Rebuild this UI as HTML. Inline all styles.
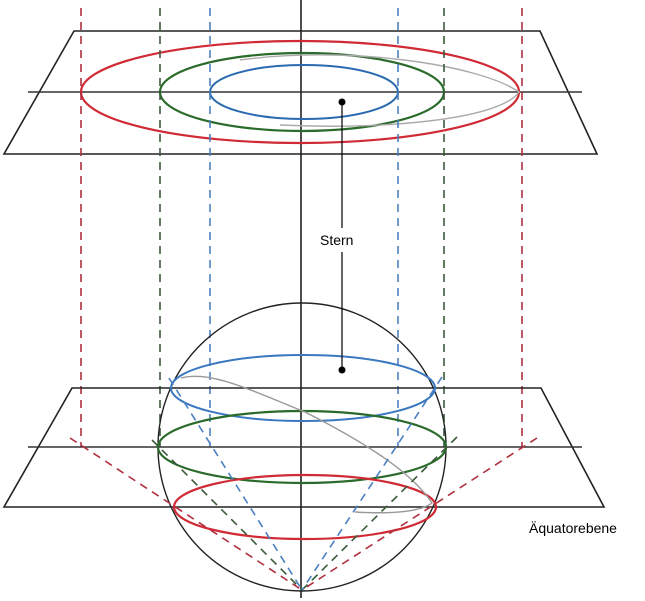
<!DOCTYPE html>
<html><head><style>body{margin:0;background:#fff}svg{display:block}</style></head><body>
<svg width="645" height="601" viewBox="0 0 645 601" xmlns="http://www.w3.org/2000/svg" font-family="Liberation Sans, sans-serif">
<g fill="none" stroke-width="1.6">
<path d="M74,31 L540,31 L597,154 L4,154 Z" stroke="#222"/>
<line x1="28" y1="92" x2="582" y2="92" stroke="#333"/>
<line x1="301" y1="0" x2="301" y2="598" stroke="#222"/>
<ellipse cx="300" cy="92" rx="219" ry="51" stroke="#d02a35" stroke-width="2.2"/>
<ellipse cx="302" cy="92" rx="142" ry="39" stroke="#2a6a2a" stroke-width="2.2"/>
<ellipse cx="304" cy="92" rx="94" ry="27" stroke="#2a6ab0" stroke-width="2"/>
<path d="M240,60 C 350,45 480,65 519,92 C 500,120 380,130 280,125" stroke="#aaa" stroke-width="1.4"/>
<g stroke-dasharray="8,6">
<line x1="81" y1="8" x2="81" y2="447" stroke="#b03040"/>
<line x1="522" y1="8" x2="522" y2="447" stroke="#b03040"/>
<line x1="160" y1="8" x2="160" y2="447" stroke="#3a5a3a"/>
<line x1="444" y1="8" x2="444" y2="447" stroke="#3a5a3a"/>
<line x1="210" y1="8" x2="210" y2="447" stroke="#4a80c0"/>
<line x1="398" y1="8" x2="398" y2="447" stroke="#4a80c0"/>
</g>
<path d="M72,388 L541,388 L604,507 L4,507 Z" stroke="#222"/>
<line x1="28" y1="447" x2="582" y2="447" stroke="#333"/>
<ellipse cx="302" cy="447" rx="144" ry="144" stroke="#222" stroke-width="1.4"/>
<ellipse cx="303" cy="388" rx="132" ry="33" stroke="#3a78c0" stroke-width="2"/>
<ellipse cx="302" cy="447" rx="144" ry="36" stroke="#2a6a2a" stroke-width="2.2"/>
<ellipse cx="305" cy="507" rx="131" ry="32" stroke="#d02a35" stroke-width="2.2"/>
<path d="M181,378 C 210,370 250,390 305,412 C 360,440 410,470 432,503 C 420,512 390,514 355,512" stroke="#999" stroke-width="1.4"/>
<g stroke-dasharray="8,6">
<line x1="70" y1="438" x2="302" y2="590" stroke="#b03040"/>
<line x1="537" y1="438" x2="302" y2="590" stroke="#b03040"/>
<line x1="152" y1="440" x2="302" y2="590" stroke="#3a5a3a"/>
<line x1="457" y1="437" x2="302" y2="590" stroke="#3a5a3a"/>
<line x1="169" y1="378" x2="302" y2="590" stroke="#4a80c0"/>
<line x1="442" y1="377" x2="302" y2="590" stroke="#4a80c0"/>
</g>
<line x1="342" y1="102" x2="342" y2="228" stroke="#000" stroke-width="1.2"/>
<line x1="342" y1="252" x2="342" y2="370" stroke="#000" stroke-width="1.2"/>
</g>
<circle cx="342" cy="102" r="3.5" fill="#000"/>
<circle cx="342" cy="370" r="3.5" fill="#000"/>
<text x="320" y="245" font-size="14" fill="#000">Stern</text>
<text x="529" y="533" font-size="14" fill="#000">Äquatorebene</text>
</svg>
</body></html>
